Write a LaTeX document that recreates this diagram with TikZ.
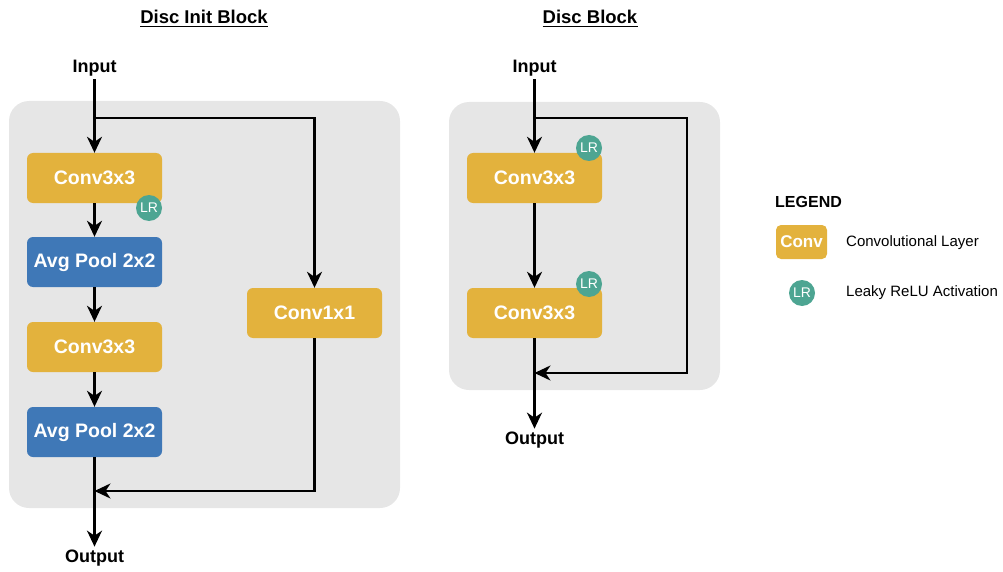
\documentclass[tikz,border=0pt]{standalone}
\usepackage{fontspec}
\setmainfont{Liberation Sans}
\usetikzlibrary{arrows.meta,calc}
\definecolor{gold}{HTML}{E3B23D}
\definecolor{poolblue}{HTML}{3F78B7}
\definecolor{teal}{HTML}{4DA592}
\definecolor{panelgrey}{HTML}{E6E6E6}
\tikzset{
  panel/.style={fill=panelgrey,draw=none,rounded corners=20pt},
  layer/.style={rounded corners=6pt,minimum width=135pt,minimum height=50pt,inner sep=0pt,
     text=white,font=\fontsize{19.5}{22}\selectfont\bfseries},
  convbox/.style={layer,fill=gold},
  poolbox/.style={layer,fill=poolblue},
  lr/.style={circle,fill=teal,minimum size=26pt,inner sep=0pt,text=white,
     font=\fontsize{14}{16}\selectfont},
  lbl/.style={font=\fontsize{18}{21}\selectfont\bfseries,inner sep=3pt},
  ttl/.style={font=\fontsize{18.5}{21}\selectfont\bfseries,inner sep=0pt},
  legtxt/.style={font=\fontsize{15}{18}\selectfont,anchor=west,inner sep=0pt},
  conn/.style={line width=2.2pt,black},
  arr/.style={conn,-{Stealth[length=16pt,width=15pt,inset=5pt]}},
}
\begin{document}
\begin{tikzpicture}[x=1pt,y=-1pt]
\useasboundingbox (0,0) rectangle (1003,572);
% panels
\fill[panel] (9,101) rectangle (400,508);
\fill[panel] (449,102) rectangle (720,390);
% titles
\node[ttl] (titleL) at (204,17) {Disc Init Block};
\draw[line width=1.3pt] ([yshift=-3pt]titleL.base west) -- ([yshift=-3pt]titleL.base east);
\node[ttl] (titleR) at (590,17) {Disc Block};
\draw[line width=1.3pt] ([yshift=-3pt]titleR.base west) -- ([yshift=-3pt]titleR.base east);
% ---- Disc Init Block ----
\node[lbl] (inL) at (94.5,68) {Input};
\node[convbox] (c1) at (94.5,178) {Conv3x3};
\node[poolbox] (p1) at (94.5,262) {Avg Pool 2x2};
\node[convbox] (c2) at (94.5,347) {Conv3x3};
\node[poolbox] (p2) at (94.5,432) {Avg Pool 2x2};
\node[convbox] (c11) at (314.5,313) {Conv1x1};
\node[lr] (lr1) at (149,208) {LR};
\node[lbl] (outL) at (94.5,558) {Output};
\coordinate (b1) at (94.5,118);
\coordinate (m1) at (94.5,491);
\draw[arr] (inL.south) -- (c1.north);
\draw[arr] (b1) -| (c11.north);
\draw[arr] (c1.south) -- (p1.north);
\draw[arr] (p1.south) -- (c2.north);
\draw[arr] (c2.south) -- (p2.north);
\draw[arr] (p2.south) -- (outL.north);
\draw[arr] (c11.south) |- (m1);
% ---- Disc Block ----
\node[lbl] (inR) at (534.5,68) {Input};
\node[convbox] (d1) at (534.5,178) {Conv3x3};
\node[convbox] (d2) at (534.5,313) {Conv3x3};
\node[lr] (lr2) at (589,148) {LR};
\node[lr] (lr3) at (589,284) {LR};
\node[lbl] (outR) at (534.5,440) {Output};
\coordinate (b2) at (534.5,118);
\coordinate (r2) at (687,373);
\coordinate (m2) at (534.5,373);
\draw[arr] (inR.south) -- (d1.north);
\draw[arr] (d1.south) -- (d2.north);
\draw[arr] (d2.south) -- (outR.north);
\draw[arr] (b2) -| (r2) -- (m2);
% ---- Legend ----
\node[font=\fontsize{16}{19}\selectfont\bfseries,anchor=west,inner sep=0pt] (leg) at (775,202) {LEGEND};
\node[fill=gold,rounded corners=5pt,minimum width=51pt,minimum height=34pt,inner sep=0pt,
  text=white,font=\fontsize{17}{20}\selectfont\bfseries] (legconv) at (801.5,242) {Conv};
\node[legtxt] (legconvt) at (846,243) {Convolutional Layer};
\node[lr] (leglr) at (802,293) {LR};
\node[legtxt] (leglrt) at (846,293) {Leaky ReLU Activation};
\end{tikzpicture}
\end{document}
